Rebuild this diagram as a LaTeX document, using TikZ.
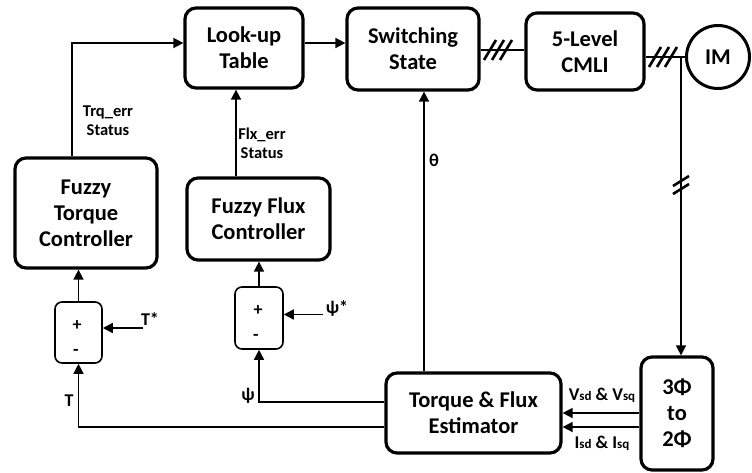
\documentclass[tikz,border=0pt]{standalone}
\usepackage{fontspec}
\setmainfont{Carlito}
\usetikzlibrary{arrows.meta,calc}
\begin{document}
\begin{tikzpicture}[x=1pt,y=-1pt,
  blk/.style={draw,line width=3.2pt,rounded corners=11pt,align=center,inner sep=0pt,
    font=\fontsize{22.5}{26}\selectfont\bfseries},
  sumbox/.style={draw,line width=1.6pt,rounded corners=7pt,inner sep=0pt,minimum width=47pt,minimum height=61pt},
  arr/.style={line width=1.5pt,-{Triangle[length=10pt,width=10pt]}},
  ln/.style={line width=1.5pt},
  sl/.style={line width=2.6pt},
  lbl/.style={font=\fontsize{16.5}{19}\selectfont\bfseries,align=center,inner sep=0pt},
  sg/.style={font=\fontsize{18}{20}\selectfont\bfseries,inner sep=0pt}]
\useasboundingbox (0,0) rectangle (752,472);
\fill[white] (0,0) rectangle (752,472);
% blocks
\node[blk,minimum width=118pt,minimum height=80pt] (LT) at (244,48) {Look-up\\Table};
\node[blk,minimum width=132pt,minimum height=82pt] (SS) at (413,49) {Switching\\State};
\node[blk,minimum width=118pt,minimum height=77pt] (CM) at (585,51.5) {5-Level\\CMLI};
\node[draw,circle,line width=3pt,minimum size=63pt,inner sep=0pt,font=\fontsize{22.5}{26}\selectfont\bfseries] (IM) at (718,57) {IM};
\node[blk,minimum width=142pt,minimum height=110pt] (FT) at (86,213) {Fuzzy\\Torque\\Controller};
\node[blk,minimum width=143pt,minimum height=82pt] (FF) at (258.5,219) {Fuzzy Flux\\Controller};
\node[sumbox] (S1) at (78.5,332.5) {};
\node[sumbox,minimum width=48pt,minimum height=62pt] (S2) at (259,318) {};
\node[sg] (p1) at (77,326) {+};
\node[sg] (m1) at (76,352) {-};
\node[sg] (p2) at (258,311) {+};
\node[sg] (m2) at (256,337) {-};
\node[blk,minimum width=175pt,minimum height=80pt] (EST) at (473.5,413) {Torque \& Flux\\Estimator};
\node[blk,minimum width=72pt,minimum height=113pt] (CV) at (677,413.5) {3Φ\\to\\2Φ};
% labels
\node[lbl] (ltrq) at (108,121) {Trq\_err\\Status};
\node[lbl] (lflx) at (262,143) {Flx\_err\\Status};
\node[sg] (lth) at (434,160) {θ};
\node[sg] (lts) at (150,319) {T*};
\node[sg] (lps) at (337,308) {ψ*};
\node[sg] (lt) at (69,401) {T};
\node[sg] (lp) at (248,396) {ψ};
\node[sg] (lv) at (602,395) {V{\fontsize{13}{14}\selectfont sd} \& V{\fontsize{13}{14}\selectfont sq}};
\node[sg] (li) at (602,443) {I{\fontsize{13}{14}\selectfont sd} \& I{\fontsize{13}{14}\selectfont sq}};
% coordinates
\coordinate (tstar) at (143,328);
\coordinate (pstar) at (323,314.5);
\coordinate (tap) at (681,57);
% connectors
\draw[arr] (FT.north -| 72,0) -- (72,43) -- (LT.west |- 0,43);
\draw[arr] (FF.north -| 236,0) -- (LT.south -| 236,0);
\draw[arr] (LT.east |- 0,43) -- (SS.west |- 0,43);
\draw[ln] (SS.east |- 0,50) -- (CM.west |- 0,50);
\draw[ln] (CM.east |- 0,57) -- (IM.west);
\draw[arr] (tap) -- (CV.north -| tap);
\draw[arr] (EST.north -| 424,0) -- (SS.south -| 424,0);
\draw[arr] (S1.north) -- (FT.south -| S1.north);
\draw[arr] (S2.north) -- (FF.south -| S2.north);
\draw[arr] (tstar) -- (S1.east |- tstar);
\draw[arr] (pstar) -- (S2.east |- pstar);
\draw[arr] (EST.west |- 0,427) -| (S1.south);
\draw[arr] (EST.west |- 0,402) -| (S2.south);
\draw[arr] (CV.west |- 0,413) -- (EST.east |- 0,413);
\draw[arr] (CV.west |- 0,427) -- (EST.east |- 0,427);
% slash marks
\foreach \x in {490,498,506} \draw[sl] (\x-6,60) -- (\x+6,40);
\foreach \x in {655,663,671} \draw[sl] (\x-6,67) -- (\x+6,47);
\foreach \y in {181,189} \draw[sl] (673,\y+5) -- (689,\y-5);
\end{tikzpicture}
\end{document}
